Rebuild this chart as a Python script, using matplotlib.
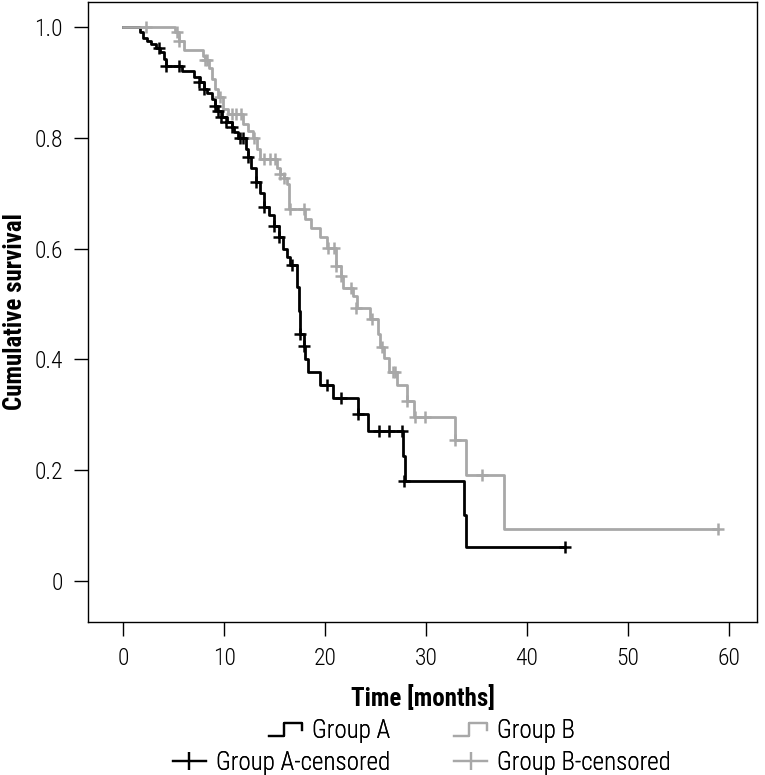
import matplotlib
matplotlib.use("Agg")
import matplotlib.pyplot as plt
from matplotlib.lines import Line2D
from matplotlib.legend_handler import HandlerBase
from matplotlib import font_manager

# ---------------- data ----------------
time_a = [0, 1.7, 2.0, 2.3, 2.7, 3.2, 3.6, 4.0, 4.2, 5.8, 7.0, 7.6, 8.0, 8.3, 8.8, 9.1, 9.3,
          9.8, 10.3, 10.8, 11.0, 11.4, 12.2, 12.4, 12.7, 13.1, 13.5, 13.9, 14.4, 14.9, 15.4,
          15.8, 16.2, 16.5, 17.2, 17.4, 17.5, 17.9, 18.0, 18.3, 19.5, 20.8, 23.3, 24.2,
          27.7, 27.9, 33.8, 34.0, 43.8]
surv_a = [1.0, 0.99, 0.98, 0.975, 0.97, 0.962, 0.955, 0.942, 0.93, 0.92, 0.91, 0.90, 0.888,
          0.88, 0.87, 0.858, 0.848, 0.838, 0.828, 0.819, 0.81, 0.80, 0.78, 0.765, 0.745, 0.72,
          0.70, 0.675, 0.66, 0.64, 0.62, 0.60, 0.585, 0.57, 0.53, 0.487, 0.445, 0.425, 0.40,
          0.378, 0.354, 0.33, 0.302, 0.271, 0.226, 0.181, 0.12, 0.061, 0.061]
cens_a_t = [3.5, 4.2, 5.5, 7.5, 8.0, 9.1, 9.4, 9.7, 10.2, 10.8, 11.6, 11.9, 12.4, 13.1, 13.9,
            14.9, 15.4, 16.7, 17.5, 17.9, 20.2, 21.6, 23.3, 25.3, 26.3, 27.6, 27.8, 43.8]
cens_a_s = [0.962, 0.93, 0.93, 0.90, 0.888, 0.858, 0.848, 0.838, 0.828, 0.819, 0.80, 0.80,
            0.765, 0.72, 0.675, 0.64, 0.62, 0.57, 0.445, 0.425, 0.354, 0.33, 0.302, 0.271,
            0.271, 0.271, 0.181, 0.061]

time_b = [0, 5.1, 5.5, 6.0, 7.9, 8.1, 8.5, 8.8, 9.1, 9.4, 9.9, 10.4, 11.9, 12.4, 12.9, 13.2,
          13.5, 15.2, 15.5, 15.9, 16.2, 16.4, 18.0, 18.6, 19.5, 20.2, 21.1, 21.6, 21.8, 22.8,
          23.2, 24.4, 25.2, 25.4, 25.8, 26.3, 27.1, 28.1, 28.8, 32.9, 34.0, 37.7, 58.9]
surv_b = [1.0, 0.99, 0.975, 0.958, 0.948, 0.94, 0.925, 0.906, 0.888, 0.873, 0.852, 0.843,
          0.825, 0.813, 0.80, 0.78, 0.761, 0.746, 0.734, 0.728, 0.716, 0.671, 0.653, 0.638,
          0.62, 0.601, 0.568, 0.55, 0.529, 0.514, 0.493, 0.472, 0.445, 0.423, 0.402, 0.378,
          0.354, 0.324, 0.296, 0.254, 0.191, 0.094, 0.094]
cens_b_t = [2.2, 5.3, 5.5, 8.1, 8.3, 9.6, 10.8, 11.2, 11.7, 13.0, 13.9, 14.5, 15.0, 15.5,
            15.9, 16.5, 17.9, 20.3, 20.9, 21.1, 21.6, 22.6, 23.1, 24.6, 25.6, 26.7, 26.9,
            28.1, 28.9, 29.9, 32.9, 35.5, 58.9]
cens_b_s = [1.0, 0.99, 0.975, 0.94, 0.94, 0.873, 0.843, 0.843, 0.843, 0.80, 0.761, 0.761,
            0.761, 0.734, 0.728, 0.671, 0.671, 0.601, 0.601, 0.568, 0.55, 0.529, 0.493, 0.472,
            0.423, 0.378, 0.378, 0.324, 0.296, 0.296, 0.254, 0.191, 0.094]

x_ticks = [0, 10, 20, 30, 40, 50, 60]
y_ticks = [0, 0.2, 0.4, 0.6, 0.8, 1.0]
y_ticklabels = ["0", "0.2", "0.4", "0.6", "0.8", "1.0"]
legend_labels = ["Group A", "Group B", "Group A-censored", "Group B-censored"]

col_a = "#000000"
col_b = "#a8a8a8"

# ---------------- font ----------------
avail = {f.name for f in font_manager.fontManager.ttflist}
condensed = [f for f in ["Roboto Condensed", "Open Sans Condensed", "Liberation Sans Narrow"]
             if f in avail]
if condensed:
    fam = [condensed[0], "DejaVu Sans"]
    FS = 18
else:
    fam = [f for f in ["Open Sans", "Noto Sans", "DejaVu Sans"] if f in avail]
    FS = 16
plt.rcParams["font.family"] = fam
plt.rcParams["font.weight"] = "light"
FS_PX = FS * 100 / 72.0

W, H = 765, 775
fig = plt.figure(figsize=(W / 100, H / 100), dpi=100)
ax_l, ax_r, ax_b, ax_t = 88, 757, 622, 2
ax = fig.add_axes([ax_l / W, 1 - ax_b / H, (ax_r - ax_l) / W, (ax_b - ax_t) / H])

ax.step(time_a, surv_a, where="post", color=col_a, lw=2.0)
ax.step(time_b, surv_b, where="post", color=col_b, lw=2.0)
ax.plot(cens_a_t, cens_a_s, linestyle="none", marker="+", color=col_a, ms=8, mew=1.8)
ax.plot(cens_b_t, cens_b_s, linestyle="none", marker="+", color=col_b, ms=8, mew=1.8)

ax.set_xlim(-3.5, 62.8)
ax.set_ylim(-0.074, 1.045)
ax.set_xticks(x_ticks)
ax.set_yticks(y_ticks)
ax.set_yticklabels(y_ticklabels)
ax.tick_params(axis="both", direction="out", length=10, width=1.0, labelsize=FS - 1)
ax.tick_params(axis="x", pad=8)
ax.tick_params(axis="y", pad=8)
for s in ax.spines.values():
    s.set_linewidth(1.0)
ax.set_xlabel("Time [months]", fontsize=FS, fontweight="bold", va="center")
ax.set_ylabel("Cumulative survival", fontsize=FS, fontweight="bold", va="center")
ax_h = ax_b - ax_t
ax_w = ax_r - ax_l
ax.xaxis.set_label_coords(0.5, -(698 - ax_b) / ax_h)
ax.yaxis.set_label_coords(-(ax_l - 15) / ax_w, 0.5)


class StepHandler(HandlerBase):
    def create_artists(self, legend, orig_handle, xdescent, ydescent, width, height,
                       fontsize, trans):
        x0 = -xdescent
        y0 = -ydescent + 0.1 * height
        y1 = -ydescent + 0.85 * height
        xs = [x0, x0 + 0.45 * width, x0 + 0.45 * width, x0 + width, x0 + width]
        ys = [y0, y0, y1, y1, 0.55 * y0 + 0.45 * y1]
        ln = Line2D(xs, ys, color=orig_handle.get_color(), lw=1.6, transform=trans)
        return [ln]


handles = [Line2D([], [], color=col_a), Line2D([], [], color=col_b),
           Line2D([], [], color=col_a, marker="|", ms=13, mew=1.6, lw=1.6),
           Line2D([], [], color=col_b, marker="|", ms=13, mew=1.6, lw=1.6)]
row_y = [731, 731, 763, 763]
col_x = [390, 454, 390, 454]
for i, (h, lab) in enumerate(zip(handles, legend_labels)):
    loc = "center right" if i % 2 == 0 else "center left"
    kw = dict(handler_map={Line2D: StepHandler()}) if i < 2 else dict(numpoints=1)
    leg = fig.legend([h], [lab], loc=loc, bbox_to_anchor=(col_x[i] / W, 1 - row_y[i] / H),
                     frameon=False, fontsize=FS, handlelength=33 / FS_PX,
                     handletextpad=10 / FS_PX, borderpad=0, borderaxespad=0, **kw)
    fig.add_artist(leg)

fig.savefig("out.png", dpi=100)
